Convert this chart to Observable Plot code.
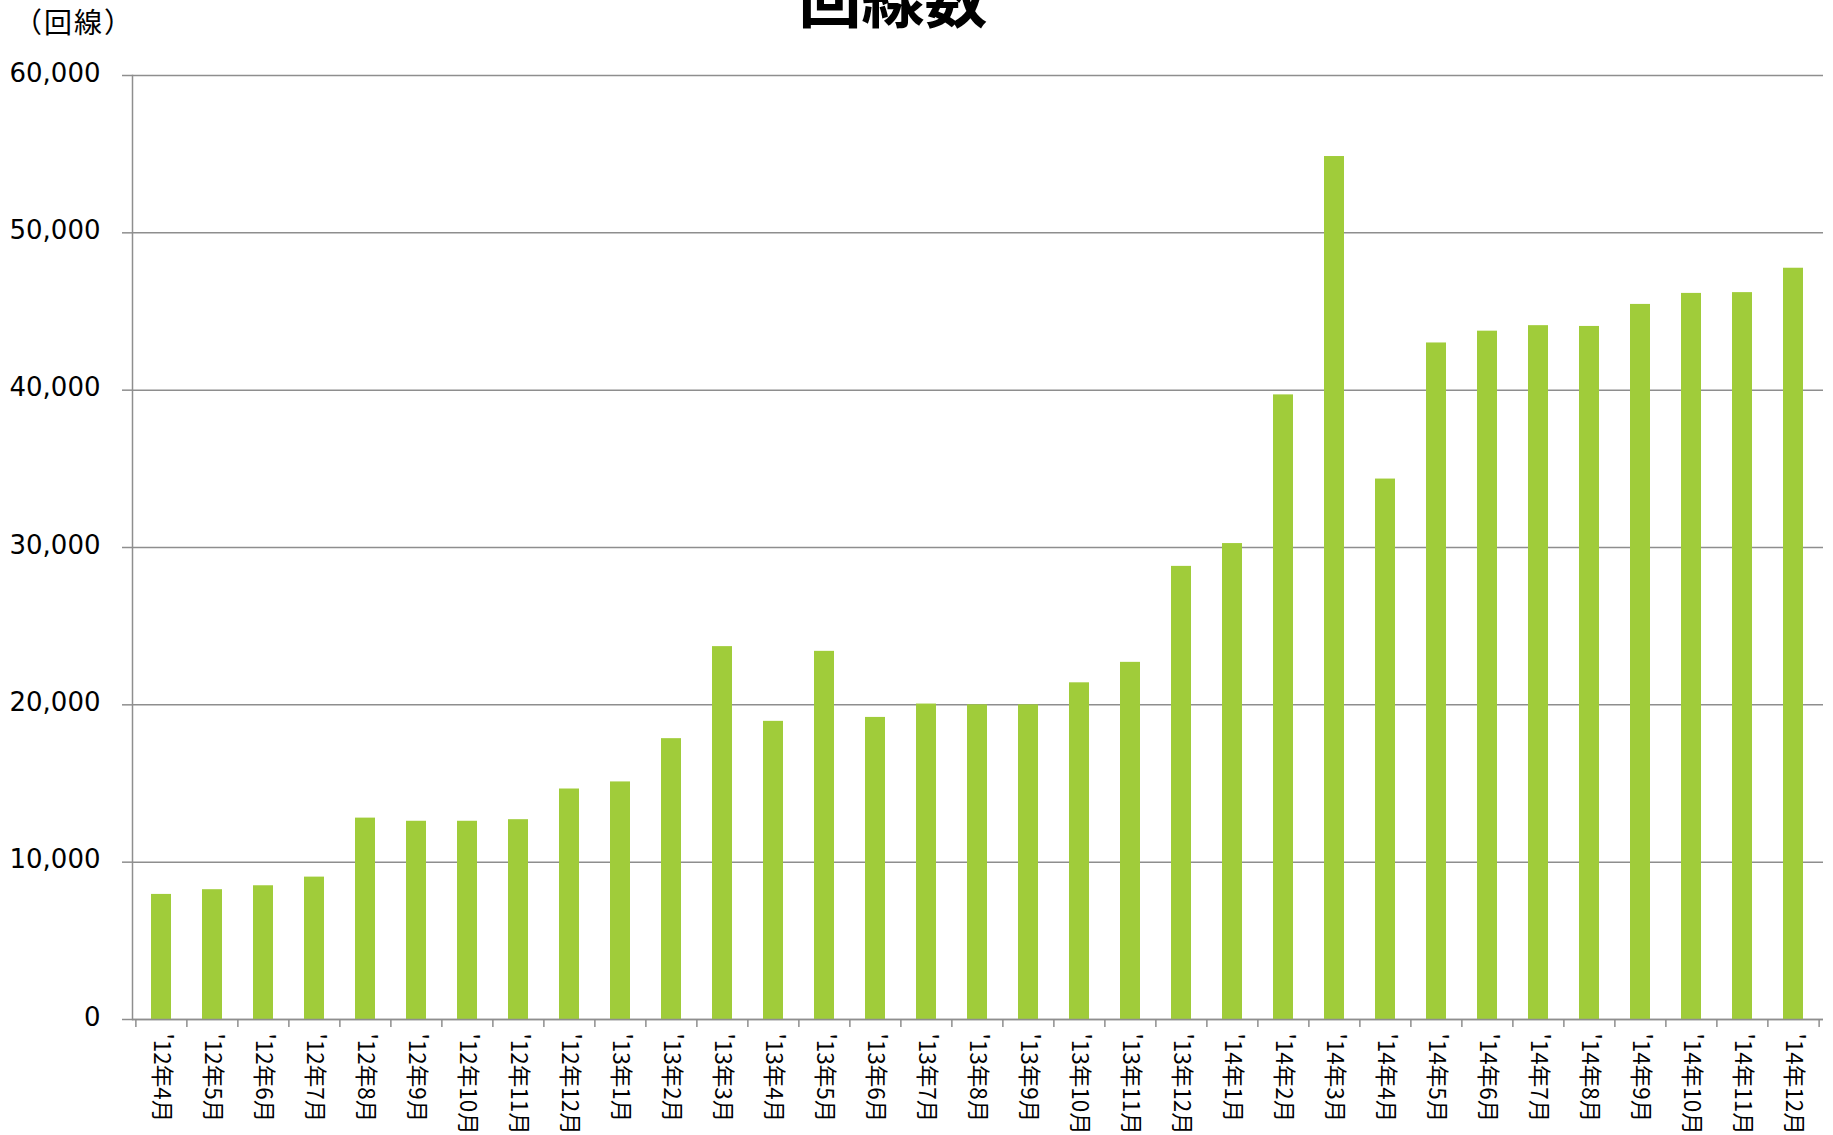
<!DOCTYPE html>
<html lang="ja">
<head>
<meta charset="utf-8">
<script src="https://cdn.jsdelivr.net/npm/d3@7"></script>
<script src="https://cdn.jsdelivr.net/npm/@observablehq/plot@0.6"></script>
<style>
  html, body { margin: 0; padding: 0; background: #fff; }
  #wrap { position: relative; width: 1833px; height: 1135px; overflow: hidden; }
  #wrap > svg.plot { position: absolute; left: 0; top: 0; }
  #ann { position: absolute; left: 0; top: 0; pointer-events: none; }
</style>
</head>
<body>
<div id="wrap"></div>
<script>
// ---- data ----
const title = "回線数";
const unitLabel = "（回線）";
const months = [
  "'12年4月", "'12年5月", "'12年6月", "'12年7月", "'12年8月", "'12年9月",
  "'12年10月", "'12年11月", "'12年12月",
  "'13年1月", "'13年2月", "'13年3月", "'13年4月", "'13年5月", "'13年6月",
  "'13年7月", "'13年8月", "'13年9月", "'13年10月", "'13年11月", "'13年12月",
  "'14年1月", "'14年2月", "'14年3月", "'14年4月", "'14年5月", "'14年6月",
  "'14年7月", "'14年8月", "'14年9月", "'14年10月", "'14年11月", "'14年12月"
];
const lines = [
  7950, 8250, 8500, 9050, 12800, 12600, 12600, 12700, 14650,
  15100, 17850, 23700, 18950, 23400, 19200, 20050, 20000, 20000, 21400, 22700, 28800,
  30250, 39700, 54850, 34350, 43000, 43750, 44100, 44050, 45450, 46150, 46200, 47750
];
const yTicks = [0, 10000, 20000, 30000, 40000, 50000, 60000];

// ---- layout ----
const W = 1833, H = 1135;
const ML = 132, MR = 10, MT = 75, MB = 116;
const GRID = "#8e8e8e";
const GREEN = "#a0cc3a";
const step = (W - ML - MR) / months.length;

const data = months.map((m, i) => ({month: m, value: lines[i]}));

const chart = Plot.plot({
  width: W,
  height: H,
  marginTop: MT,
  marginBottom: MB,
  marginLeft: ML,
  marginRight: MR,
  style: {fontFamily: "DejaVu Sans", color: "#000", background: "#fff", overflow: "visible"},
  x: {domain: months, paddingInner: 0.6, paddingOuter: 0.3, align: 0.5},
  y: {domain: [0, 60000]},
  marks: [
    Plot.gridY(yTicks, {stroke: GRID, strokeOpacity: 1, strokeWidth: 1.5}),
    Plot.barY(data, {x: "month", y: "value", fill: GREEN}),
    Plot.frame({anchor: "left", stroke: GRID, strokeWidth: 1.5}),
    Plot.ruleY([0], {stroke: GRID, strokeWidth: 1.5}),
    Plot.axisY(yTicks, {
      tickSize: 10, stroke: GRID, strokeWidth: 1.5, fill: "none", label: null
    }),
    Plot.axisY(yTicks, {
      tickSize: 10, tickPadding: 22, tickFormat: d3.format(","),
      fontSize: 26, fontFamily: "DejaVu Sans", fill: "#000",
      stroke: "none", dy: -2, label: null
    }),
    Plot.axisX({tickSize: 8, fill: "none", dx: -step / 2, stroke: GRID, strokeWidth: 1.5, label: null}),
    Plot.axisX([months[months.length - 1]], {tickSize: 8, fill: "none", dx: step / 2, stroke: GRID, strokeWidth: 1.5, label: null}),
    Plot.axisX({
      tickSize: 0, tickPadding: 14, tickRotate: 90,
      fontSize: 22.5, fontFamily: "Noto Sans CJK JP", fill: "#000", label: null
    })
  ]
});
chart.classList.add("plot");
const wrap = document.getElementById("wrap");
wrap.appendChild(chart);

// annotations: title and unit label
const ns = "http://www.w3.org/2000/svg";
const ann = document.createElementNS(ns, "svg");
ann.setAttribute("id", "ann");
ann.setAttribute("width", W);
ann.setAttribute("height", 60);
const t = document.createElementNS(ns, "text");
t.setAttribute("x", 893);
t.setAttribute("y", 22);
t.setAttribute("text-anchor", "middle");
t.setAttribute("font-family", "Noto Sans CJK JP");
t.setAttribute("font-weight", "700");
t.setAttribute("font-size", "63");
t.setAttribute("fill", "#000");
t.textContent = title;
ann.appendChild(t);
const u = document.createElementNS(ns, "text");
u.setAttribute("x", 14);
u.setAttribute("y", 33);
u.setAttribute("font-family", "Noto Sans CJK JP");
u.setAttribute("font-size", "28");
u.setAttribute("letter-spacing", "2");
u.setAttribute("fill", "#000");
u.textContent = unitLabel;
ann.appendChild(u);
wrap.appendChild(ann);
</script>
</body>
</html>
